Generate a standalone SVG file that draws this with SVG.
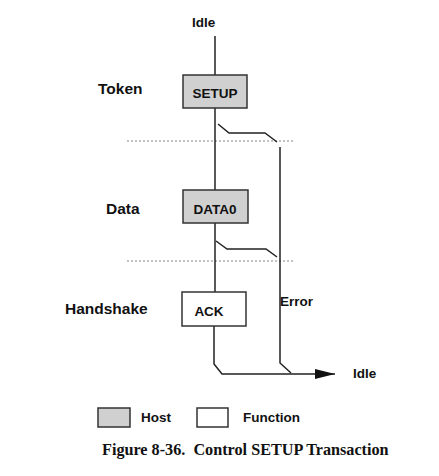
<svg xmlns="http://www.w3.org/2000/svg" width="439" height="476" viewBox="0 0 439 476">
<style>
.ln{fill:none;stroke:#222;stroke-width:1.5;stroke-linejoin:miter}
.dot{fill:none;stroke:#888;stroke-width:1;stroke-dasharray:2 2}
.host{fill:#d0d0d0;stroke:#333;stroke-width:1.5}
.func{fill:#fff;stroke:#333;stroke-width:1.5}
.lbl{font-family:"Liberation Sans",Arial,sans-serif;font-weight:bold;font-size:13.5px;fill:#111}
.side{font-family:"Liberation Sans",Arial,sans-serif;font-weight:bold;font-size:15.5px;fill:#111}
.cap{font-family:"Liberation Serif","Times New Roman",serif;font-weight:bold;font-size:16.2px;fill:#111}
</style>
<defs>
<marker id="arr" markerWidth="20" markerHeight="10" refX="20" refY="5" orient="auto" markerUnits="userSpaceOnUse">
<path d="M0,0 L20,5 L0,10 Z" fill="#111"/>
</marker>
</defs>
<rect width="439" height="476" fill="#fff"/>
<g id="phase-labels">
<text class="side" x="98" y="94">Token</text>
<text class="side" x="106" y="214">Data</text>
<text class="side" x="65" y="314">Handshake</text>
</g>
<g id="dividers">
<line class="dot" x1="127" y1="141" x2="295" y2="141"/>
<line class="dot" x1="127" y1="261" x2="295" y2="261"/>
</g>
<g id="connectors">
<line class="ln" x1="215" y1="36" x2="215" y2="75"/>
<line class="ln" x1="215" y1="108" x2="215" y2="190"/>
<line class="ln" x1="215" y1="223" x2="215" y2="292"/>
<polyline class="ln" points="218,124 229,133 265,133 277,142"/>
<polyline class="ln" points="216,241 227,249 266,249 277,257"/>
<polyline class="ln" points="280,147 280,363 291,373"/>
<polyline class="ln" points="214,326 214,364 222,374 335,374" marker-end="url(#arr)"/>
</g>
<g id="idle-start">
<text class="lbl" x="192" y="27">Idle</text>
</g>
<g id="setup">
<rect class="host" x="183" y="75" width="64" height="33"/>
<text class="lbl" x="215" y="98" text-anchor="middle">SETUP</text>
</g>
<g id="data0">
<rect class="host" x="183" y="190" width="65" height="33"/>
<text class="lbl" x="215" y="214" text-anchor="middle">DATA0</text>
</g>
<g id="ack">
<rect class="func" x="182" y="292" width="64" height="34"/>
<text class="lbl" x="209" y="316" text-anchor="middle">ACK</text>
</g>
<g id="error-label">
<text class="lbl" x="280" y="306">Error</text>
</g>
<g id="idle-end">
<text class="lbl" x="353" y="378">Idle</text>
</g>
<g id="legend">
<rect class="host" x="98" y="408" width="32" height="19"/>
<text class="lbl" x="141" y="422">Host</text>
<rect class="func" x="197" y="408" width="31" height="19"/>
<text class="lbl" x="243" y="422">Function</text>
</g>
<g id="caption">
<text class="cap" x="102" y="455">Figure 8-36.&#160; Control SETUP Transaction</text>
</g>
</svg>
